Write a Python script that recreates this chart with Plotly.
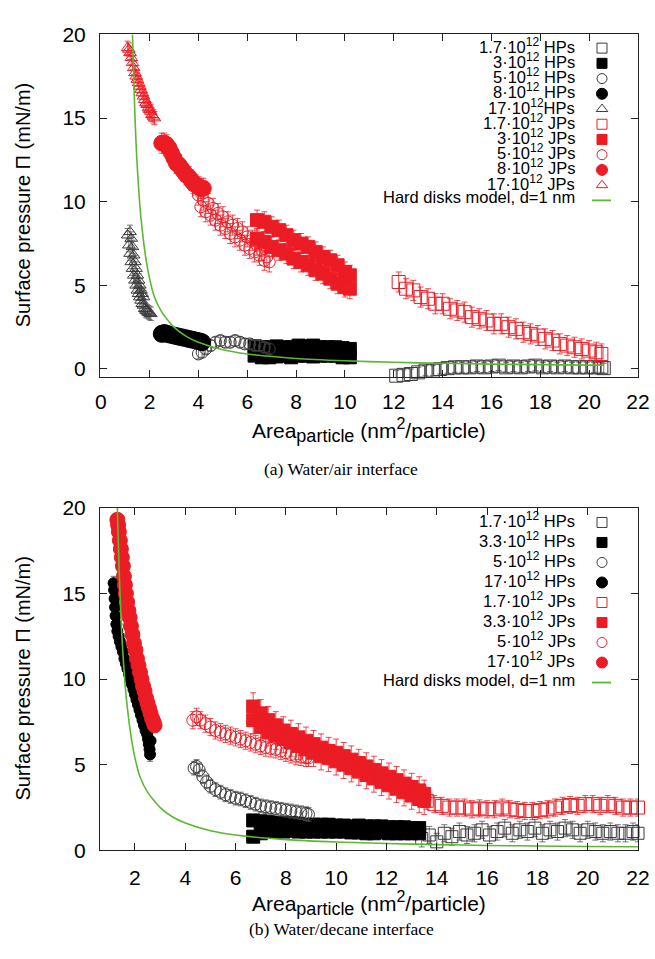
import plotly.graph_objects as go

# ---------------- DATA : panel (a) water/air ----------------
a_hp17_x = [1.1,1.15,1.2,1.25,1.3,1.35,1.4,1.45,1.5,1.55,1.6,1.65,1.7,1.75,1.8,1.85,1.9,1.95,2.0,2.05,
            1.2,1.25,1.3,1.35,1.4,1.45,1.5,1.55,1.6,1.65,1.7,1.75]
a_hp17_y = [8.0,7.4,6.9,6.4,6.0,5.6,5.3,5.0,4.7,4.5,4.3,4.1,3.9,3.8,3.6,3.5,3.45,3.4,3.35,3.3,
            8.2,7.8,7.3,6.8,6.4,6.0,5.6,5.3,5.0,4.7,4.5,4.3]
a_hp8_x = [2.5,2.6,2.7,2.85,3.0,3.15,3.3,3.45,3.6,3.75,3.9,4.05,4.15]
a_hp8_y = [2.1,2.15,2.1,2.05,2.0,1.95,1.9,1.85,1.8,1.75,1.7,1.65,1.6]
a_hp5_x = [4.0,4.15,4.3,4.5,4.7,4.9,5.1,5.3,5.5,5.7,5.9,6.1,6.3,6.5,6.7,6.9]
a_hp5_y = [0.9,1.0,1.2,1.4,1.6,1.7,1.6,1.6,1.7,1.6,1.5,1.5,1.4,1.4,1.3,1.2]
a_hp3_x = [6.3,6.6,6.9,7.2,7.5,7.8,8.1,8.4,8.7,9.0,9.3,9.6,9.9,10.2]
a_hp3_yu = [1.35,1.3,1.3,1.35,1.3,1.3,1.4,1.35,1.4,1.3,1.3,1.3,1.25,1.2]
a_hp3_yl = [0.8,0.7,0.7,0.75,0.8,0.7,0.8,0.8,0.75,0.8,0.8,0.8,0.7,0.7]
a_hp1_x = [12.1,12.4,12.7,13.0,13.3,13.6,13.9,14.2,14.5,14.8,15.1,15.4,15.7,16.0,16.3,16.6,16.9,
           17.2,17.5,17.8,18.1,18.4,18.7,19.0,19.3,19.6,19.9,20.2,20.5,20.6]
a_hp1_y = [-0.4,-0.35,-0.3,-0.2,-0.1,-0.1,0.0,0.05,0.1,0.1,0.1,0.15,0.1,0.15,0.2,0.1,0.15,
           0.1,0.15,0.2,0.1,0.15,0.1,0.15,0.1,0.1,0.1,0.1,0.1,0.05]

a_jp17_x = [1.1,1.15,1.2,1.25,1.3,1.35,1.4,1.45,1.5,1.55,1.6,1.65,1.7,1.75,1.8,1.85,1.9,1.95,2.0,2.05,2.1,2.15,2.2]
a_jp17_y = [19.2,19.1,18.9,18.6,18.3,18.0,17.7,17.5,17.3,17.1,16.9,16.7,16.5,16.3,16.1,15.9,15.8,15.6,15.5,15.4,15.2,15.1,15.0]
a_jp8_x = [2.5,2.6,2.7,2.8,2.9,3.0,3.1,3.2,3.3,3.4,3.5,3.6,3.7,3.8,3.9,4.0,4.1,4.2]
a_jp8_y = [13.5,13.5,13.4,13.2,12.9,12.6,12.3,12.2,12.0,11.8,11.6,11.5,11.3,11.1,11.0,10.9,10.8,10.8]
a_jp5_x = [4.0,4.2,4.4,4.6,4.8,5.0,5.2,5.4,5.6,5.8,6.0,6.2,6.4,6.6,6.8,6.9,
           4.1,4.3,4.5,4.7,4.9,5.1,5.3,5.5,5.7,5.9,6.1,6.3,6.5,6.7]
a_jp5_y = [10.4,10.1,9.9,9.6,9.3,9.1,8.8,8.6,8.4,8.2,7.9,7.7,7.4,7.1,6.7,6.4,
           9.7,9.4,9.2,8.9,8.6,8.4,8.1,7.9,7.7,7.4,7.2,7.0,6.8,6.5]
a_jp3_x = [6.4,6.7,7.0,7.3,7.6,7.9,8.2,8.5,8.8,9.1,9.4,9.7,10.0,10.2]
a_jp3_yu = [8.9,8.8,8.5,8.3,8.0,7.7,7.5,7.3,7.0,6.7,6.5,6.2,5.8,5.6]
a_jp3_yl = [7.8,7.6,7.3,7.1,6.9,6.6,6.4,6.2,5.9,5.7,5.4,5.1,4.9,4.8]
a_jp1_x = [12.2,12.5,12.8,13.1,13.4,13.7,14.0,14.3,14.6,14.9,15.2,15.5,15.8,16.1,16.4,16.7,17.0,
           17.3,17.6,17.9,18.2,18.5,18.8,19.1,19.4,19.7,20.0,20.3,20.5]
a_jp1_y = [5.2,4.8,4.7,4.3,4.2,3.9,3.9,3.6,3.5,3.4,3.1,3.0,2.9,2.7,2.7,2.5,2.4,2.2,2.1,2.0,1.8,
           1.7,1.5,1.4,1.3,1.2,1.1,1.0,0.9]

# ---------------- DATA : panel (b) water/decane ----------------
b_hp17_x = [1.15,1.17,1.19,1.21,1.23,1.26,1.3,1.35,1.4,1.46,1.52,1.58,1.64,1.7,1.76,1.82,1.88,1.94,
            2.0,2.06,2.12,2.18,2.24,2.3,2.36,2.42,2.48,2.52,2.55,2.58,2.6,2.62]
b_hp17_y = [15.6,15.2,14.7,14.2,13.7,13.2,12.8,12.5,12.2,11.9,11.6,11.2,10.9,10.6,10.3,10.0,9.7,9.4,
            9.1,8.8,8.5,8.2,7.9,7.6,7.3,7.0,6.8,6.5,6.2,5.9,5.6,6.4]
b_hp5_x = [4.35,4.45,4.55,4.7,4.85,5.0,5.2,5.4,5.6,5.8,6.0,6.2,6.4,6.6,6.8,7.0,7.2,7.4,7.6,7.8,8.0,
           8.2,8.4,8.6,8.8,8.9]
b_hp5_y = [4.8,4.9,4.7,4.3,4.0,3.75,3.55,3.4,3.25,3.15,3.05,3.0,2.9,2.8,2.7,2.6,2.55,2.5,2.45,2.4,
           2.35,2.3,2.25,2.2,2.15,2.1]
b_hp3_x = [6.7,7.0,7.3,7.6,7.9,8.2,8.5,8.8,9.1,9.4,9.7,10.0,10.3,10.6,10.9,11.2,11.5,11.8,12.1,
           12.4,12.7,13.0,13.3]
b_hp3_yu = [1.75,1.7,1.65,1.6,1.6,1.6,1.55,1.5,1.5,1.5,1.5,1.45,1.45,1.4,1.45,1.4,1.4,1.4,1.35,1.35,
            1.35,1.3,1.3]
b_hp3_yl = [0.8,1.0,1.1,1.1,1.1,1.15,1.1,1.1,1.1,1.1,1.1,1.1,1.1,1.05,1.05,1.0,1.0,1.05,1.0,1.0,
            1.0,1.0,1.0]
b_hp1_x = [13.4,13.7,14.0,14.3,14.6,14.9,15.2,15.5,15.8,16.1,16.4,16.7,17.0,17.3,17.6,17.9,18.2,
           18.5,18.8,19.1,19.4,19.7,20.0,20.3,20.6,20.9,21.2,21.5,21.8,22.0]
b_hp1_y = [0.7,0.9,0.5,1.0,0.8,1.1,0.9,1.0,1.2,0.9,1.1,1.3,1.0,1.2,1.1,1.3,1.0,1.2,1.1,1.3,1.2,
           1.0,1.2,1.1,1.0,1.1,1.0,1.0,1.1,1.0]

b_jp17_x = [1.3,1.33,1.36,1.4,1.44,1.48,1.52,1.56,1.6,1.64,1.69,1.74,1.79,1.84,1.9,1.96,2.02,2.08,
            2.14,2.2,2.26,2.32,2.38,2.44,2.5,2.56,2.62,2.68,2.74,2.78]
b_jp17_y = [19.3,19.0,18.6,18.1,17.6,17.1,16.6,16.0,15.5,15.0,14.5,14.0,13.6,13.1,12.6,12.1,11.7,
            11.2,10.8,10.4,10.0,9.6,9.3,8.9,8.6,8.3,8.0,7.7,7.5,7.3]
b_jp5_x = [4.3,4.45,4.6,4.8,5.0,5.2,5.4,5.6,5.8,6.0,6.2,6.4,6.6,6.8,7.0,7.2,7.4,7.6,7.8,8.0,8.2,
           8.4,8.6,8.8,8.9]
b_jp5_y = [7.6,7.8,7.6,7.4,7.2,7.0,6.9,6.8,6.7,6.6,6.5,6.4,6.3,6.2,6.1,6.0,5.95,5.9,5.8,5.7,5.6,
           5.5,5.45,5.4,5.4]
b_jp3_x = [6.7,7.0,7.3,7.6,7.9,8.2,8.5,8.8,9.1,9.4,9.7,10.0,10.3,10.6,10.9,11.2,11.5,11.8,12.1,
           12.4,12.7,13.0,13.3,13.5]
b_jp3_yu = [8.4,8.0,7.6,7.3,7.0,6.8,6.6,6.4,6.2,6.0,5.8,5.7,5.5,5.3,5.1,4.9,4.7,4.5,4.3,4.1,3.9,
            3.7,3.5,3.3]
b_jp3_yl = [7.6,7.2,6.9,6.7,6.5,6.3,6.1,5.9,5.7,5.5,5.4,5.2,5.0,4.8,4.6,4.4,4.2,4.0,3.8,3.6,3.4,
            3.2,3.0,2.9]
b_jp1_x = [13.6,13.9,14.2,14.5,14.8,15.1,15.4,15.7,16.0,16.3,16.6,16.9,17.2,17.5,17.8,18.1,18.4,
           18.7,19.0,19.3,19.6,19.9,20.2,20.5,20.8,21.1,21.4,21.7,22.0]
b_jp1_y = [2.9,2.7,2.6,2.5,2.5,2.5,2.4,2.45,2.4,2.4,2.5,2.4,2.35,2.3,2.3,2.35,2.4,2.5,2.6,2.65,
           2.6,2.7,2.7,2.6,2.7,2.6,2.5,2.5,2.5]

# hard disks model curve
hd_x = [1.3,1.35,1.4,1.45,1.5,1.6,1.7,1.85,2.0,2.2,2.5,3.0,3.5,4.0,5.0,6.0,8.0,10.0,12.0,14.0,
        16.0,18.0,20.0,22.0]
hd_y = [20.0,17.4,15.2,13.4,12.0,9.8,8.3,6.6,5.4,4.3,3.4,2.5,1.95,1.6,1.15,0.9,0.63,0.49,0.4,
        0.34,0.29,0.26,0.23,0.21]
hd_a_xmax = 20.6

# legend labels
SUP = "<sup><span style='font-size:12px'>12</span></sup>"
a_labels = ["1.7·10" + SUP + " HPs", "3·10" + SUP + " HPs", "5·10" + SUP + " HPs",
            "8·10" + SUP + " HPs", "17·10" + SUP + "HPs", "1.7·10" + SUP + " JPs",
            "3·10" + SUP + " JPs", "5·10" + SUP + " JPs", "8·10" + SUP + " JPs",
            "17·10" + SUP + " JPs", "Hard disks model, d=1 nm"]
b_labels = ["1.7·10" + SUP + " HPs", "3.3·10" + SUP + " HPs", "5·10" + SUP + " HPs",
            "17·10" + SUP + " HPs", "1.7·10" + SUP + " JPs", "3.3·10" + SUP + " JPs",
            "5·10" + SUP + " JPs", "17·10" + SUP + " JPs", "Hard disks model, d=1 nm"]
x_ticks_a = list(range(0, 23, 2))
x_ticks_b = list(range(2, 23, 2))
y_ticks = [0, 5, 10, 15, 20]

# error bar half-lengths per series
err_a = {"hp1": 0.3, "hp3": 0.35, "hp5": 0.3, "hp8": 0.3, "hp17": 0.4,
         "jp1": 0.6, "jp3": 0.6, "jp5": 0.6, "jp8": 0.6, "jp17": 0.4}
err_b = {"hp1": 0.5, "hp3": 0.3, "hp5": 0.4, "hp17": 0.4,
         "jp1": 0.5, "jp3": 0.8, "jp5": 0.5, "jp17": 0.3}

# ---------------- STYLE ----------------
W, H = 655, 959
ML, MR = 100, 17
RED = "#ec1c24"
BLK = "#000000"
GRY = "#3a3a3a"
GREEN = "#5cb833"
FONT = "Liberation Sans, Arial, Helvetica, sans-serif"


def pxx(px):
    return (px - ML) / (W - ML - MR)


def pxy(py):
    return (H - py) / H


STY = {
    "hp1": ("square-open", GRY, 12, "#555555"),
    "hp3": ("square", BLK, 12, "#555555"),
    "hp5": ("circle-open", GRY, 12, "#555555"),
    "hp8": ("circle", BLK, 14, "#555555"),
    "hp17": ("triangle-up-open", GRY, 11, "#555555"),
    "jp1": ("square-open", RED, 12, RED),
    "jp3": ("square", RED, 13, RED),
    "jp5": ("circle-open", RED, 12, RED),
    "jp8": ("circle", RED, 15, RED),
    "jp17": ("triangle-up-open", RED, 11, RED),
}

fig = go.Figure()


def add_series(key, xs, ys, err, xa, ya, size=None):
    sym, col, sz, ecol = STY[key]
    if size is not None:
        sz = size
    fig.add_trace(go.Scatter(
        x=xs, y=ys, mode="markers", xaxis=xa, yaxis=ya, cliponaxis=False,
        marker=dict(symbol=sym, size=sz, color=col, line=dict(color=col, width=1)),
        error_y=dict(type="data", array=[err] * len(xs), color=ecol, thickness=0.8, width=3),
        showlegend=False, hoverinfo="skip"))


# panel (a)
add_series("hp1", a_hp1_x, a_hp1_y, err_a["hp1"], "x", "y", size=13)
add_series("hp3", a_hp3_x + a_hp3_x, a_hp3_yu + a_hp3_yl, err_a["hp3"], "x", "y", size=13)
add_series("hp5", a_hp5_x, a_hp5_y, err_a["hp5"], "x", "y")
add_series("hp8", a_hp8_x, a_hp8_y, err_a["hp8"], "x", "y", size=17)
add_series("hp17", a_hp17_x, a_hp17_y, err_a["hp17"], "x", "y")
add_series("jp1", a_jp1_x, a_jp1_y, err_a["jp1"], "x", "y", size=13)
add_series("jp3", a_jp3_x + a_jp3_x, a_jp3_yu + a_jp3_yl, err_a["jp3"], "x", "y")
add_series("jp5", a_jp5_x, a_jp5_y, err_a["jp5"], "x", "y")
add_series("jp8", a_jp8_x, a_jp8_y, err_a["jp8"], "x", "y", size=16)
add_series("jp17", a_jp17_x, a_jp17_y, err_a["jp17"], "x", "y")
hx_a = [v for v in hd_x if v <= hd_a_xmax] + [hd_a_xmax]
hy_a = [hd_y[i] for i, v in enumerate(hd_x) if v <= hd_a_xmax] + [0.22]
fig.add_trace(go.Scatter(x=hx_a, y=hy_a, mode="lines", xaxis="x", yaxis="y",
                         line=dict(color=GREEN, width=1.6, shape="spline", smoothing=0.6),
                         showlegend=False, hoverinfo="skip"))

# panel (b)
add_series("hp1", b_hp1_x, b_hp1_y, err_b["hp1"], "x2", "y2")
add_series("hp3", b_hp3_x + b_hp3_x, b_hp3_yu + b_hp3_yl, err_b["hp3"], "x2", "y2", size=13)
add_series("hp5", b_hp5_x, b_hp5_y, err_b["hp5"], "x2", "y2")
add_series("hp8", b_hp17_x, b_hp17_y, err_b["hp17"], "x2", "y2", size=11)
add_series("jp1", b_jp1_x, b_jp1_y, err_b["jp1"], "x2", "y2", size=13)
add_series("jp3", b_jp3_x + b_jp3_x, b_jp3_yu + b_jp3_yl, err_b["jp3"], "x2", "y2")
add_series("jp5", b_jp5_x, b_jp5_y, err_b["jp5"], "x2", "y2")
add_series("jp8", b_jp17_x, b_jp17_y, err_b["jp17"], "x2", "y2")
fig.add_trace(go.Scatter(x=hd_x, y=hd_y, mode="lines", xaxis="x2", yaxis="y2",
                         line=dict(color=GREEN, width=1.6, shape="spline", smoothing=0.6),
                         showlegend=False, hoverinfo="skip"))

# ---------------- custom legends ----------------
A_ROW0, A_DR = 37, 15.6
B_ROW0, B_DR = 523, 20.5
TXT_R, SYM_X = 577, 602
a_keys = ["hp1", "hp3", "hp5", "hp8", "hp17", "jp1", "jp3", "jp5", "jp8", "jp17"]
b_keys = ["hp1", "hp3", "hp5", "hp8", "jp1", "jp3", "jp5", "jp8"]

annotations = []
shapes = []


def legend(labels, keys, row0, dr):
    for i, lab in enumerate(labels):
        ry = row0 + dr * i
        annotations.append(dict(text=lab, x=pxx(TXT_R), y=pxy(ry - 3), xref="paper", yref="paper",
                                xanchor="right", yanchor="middle", showarrow=False,
                                font=dict(family=FONT, size=16.5, color="black")))
        if i < len(keys):
            sym, col, sz, _ = STY[keys[i]]
            fig.add_trace(go.Scatter(x=[SYM_X], y=[ry], mode="markers", xaxis="x3", yaxis="y3",
                                     marker=dict(symbol=sym, size=11 if "circle" in sym and "open" not in sym else 10,
                                                 color=col, line=dict(color=col, width=1)),
                                     showlegend=False, hoverinfo="skip", cliponaxis=False))
        else:
            shapes.append(dict(type="line", xref="paper", yref="paper", x0=pxx(592), x1=pxx(611),
                               y0=pxy(ry), y1=pxy(ry), line=dict(color=GREEN, width=1.8)))


legend(a_labels, a_keys, A_ROW0, A_DR)
legend(b_labels, b_keys, B_ROW0, B_DR)

# axis titles and captions
for cy in (198, 683):
    annotations.append(dict(text="Surface pressure Π (mN/m)", x=pxx(23), y=pxy(cy), xref="paper",
                            yref="paper", textangle=-90, showarrow=False, xanchor="center",
                            yanchor="middle", font=dict(family=FONT, size=20, color="black")))
XT = ("Area<sub><span style='font-size:18px'>particle</span></sub> "
      "(nm<sup><span style='font-size:16px'>2</span></sup>/particle)")
for cy in (429, 913):
    annotations.append(dict(text=XT, x=pxx(369), y=pxy(cy), xref="paper", yref="paper",
                            showarrow=False, xanchor="center", yanchor="middle",
                            font=dict(family=FONT, size=21, color="black")))
for txt, cy in (("(a) Water/air interface", 468), ("(b) Water/decane interface", 940)):
    annotations.append(dict(text=txt, x=pxx(341), y=pxy(cy), xref="paper", yref="paper",
                            showarrow=False, xanchor="center", yanchor="middle",
                            font=dict(family="Liberation Serif, Times New Roman, serif", size=17.5,
                                      color="black")))

axcommon = dict(showgrid=False, zeroline=False, showline=True, linecolor="#222", linewidth=1,
                mirror="allticks", ticks="inside", ticklen=7, tickwidth=1, tickcolor="#222",
                tickfont=dict(family=FONT, size=21, color="black"), fixedrange=True)

fig.update_layout(
    width=W, height=H, margin=dict(l=ML, r=MR, t=0, b=0),
    paper_bgcolor="white", plot_bgcolor="rgba(0,0,0,0)",
    xaxis=dict(domain=[0, 1], range=[-0.03, 22], tickvals=x_ticks_a, anchor="y",
               ticklabelstandoff=6, **axcommon),
    yaxis=dict(domain=[pxy(374), pxy(23)], range=[-0.48, 20], tickvals=y_ticks, anchor="x",
               ticklabelstandoff=9, **axcommon),
    xaxis2=dict(domain=[0, 1], range=[0.61, 22], tickvals=x_ticks_b, anchor="y2",
                ticklabelstandoff=8, **axcommon),
    yaxis2=dict(domain=[pxy(859), pxy(508)], range=[0, 20], tickvals=y_ticks, anchor="x2",
                ticklabelstandoff=9, **axcommon),
    xaxis3=dict(domain=[0, 1], range=[ML, W - MR], visible=False, anchor="y3", fixedrange=True),
    yaxis3=dict(domain=[0, 1], range=[H, 0], visible=False, anchor="x3", fixedrange=True),
    annotations=annotations, shapes=shapes, showlegend=False,
)

fig.write_html("out.html")
